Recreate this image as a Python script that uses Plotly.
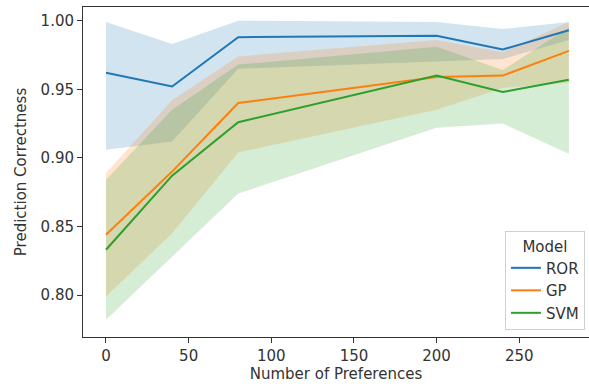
import plotly.graph_objects as go

x_prefs = [0, 40, 80, 200, 240, 280]

ror_mean = [0.962, 0.952, 0.988, 0.989, 0.979, 0.993]
ror_lo = [0.906, 0.912, 0.965, 0.970, 0.972, 0.986]
ror_hi = [0.999, 0.983, 1.000, 0.999, 0.994, 0.999]

gp_mean = [0.844, 0.890, 0.940, 0.959, 0.960, 0.978]
gp_lo = [0.799, 0.845, 0.904, 0.935, 0.951, 0.955]
gp_hi = [0.889, 0.942, 0.974, 0.986, 0.977, 0.999]

svm_mean = [0.833, 0.887, 0.926, 0.960, 0.948, 0.957]
svm_lo = [0.782, 0.828, 0.874, 0.922, 0.925, 0.903]
svm_hi = [0.884, 0.935, 0.968, 0.981, 0.964, 0.995]

models = ["ROR", "GP", "SVM"]
colors = ["#1f77b4", "#ff7f0e", "#2ca02c"]
fills = ["rgba(31,119,180,0.2)", "rgba(255,127,14,0.2)", "rgba(44,160,44,0.2)"]
means = [ror_mean, gp_mean, svm_mean]
los = [ror_lo, gp_lo, svm_lo]
his = [ror_hi, gp_hi, svm_hi]

fig = go.Figure()
for name, fc, lo, hi in zip(models, fills, los, his):
    fig.add_trace(go.Scatter(x=x_prefs, y=hi, mode="lines", line=dict(width=0),
                             showlegend=False, hoverinfo="skip"))
    fig.add_trace(go.Scatter(x=x_prefs, y=lo, mode="lines", line=dict(width=0),
                             fill="tonexty", fillcolor=fc, showlegend=False, hoverinfo="skip"))
for name, c, m in zip(models, colors, means):
    fig.add_trace(go.Scatter(x=x_prefs, y=m, mode="lines", name=name,
                             line=dict(color=c, width=2)))

axis_common = dict(showline=True, linecolor="#333333", linewidth=1, ticks="outside",
                   ticklen=5, tickcolor="#333333", showgrid=False, zeroline=False,
                   tickfont=dict(size=15, color="#333333"))

fig.update_layout(
    width=589, height=389,
    margin=dict(l=83, r=0, t=7, b=52),
    paper_bgcolor="white", plot_bgcolor="white",
    font=dict(family="DejaVu Sans", size=15, color="#333333"),
    xaxis=dict(range=[-13.91, 292.2], tickvals=[0, 50, 100, 150, 200, 250],
               mirror=True, title=dict(text="Number of Preferences", standoff=4,
                                        font=dict(size=15)), **axis_common),
    yaxis=dict(range=[0.7694, 1.0100], tickvals=[0.80, 0.85, 0.90, 0.95, 1.00],
               tickformat=".2f", title=dict(text="Prediction Correctness", standoff=10,
                                             font=dict(size=15)), **axis_common),
    legend=dict(title=dict(text="Model", side="top center", font=dict(size=15)),
                x=0.992, y=0.021, traceorder="normal",
                xanchor="right", yanchor="bottom", bgcolor="rgba(255,255,255,0.8)",
                bordercolor="#d0d0d0", borderwidth=1, font=dict(size=15)),
    showlegend=True,
)

fig.write_html("out.html")
